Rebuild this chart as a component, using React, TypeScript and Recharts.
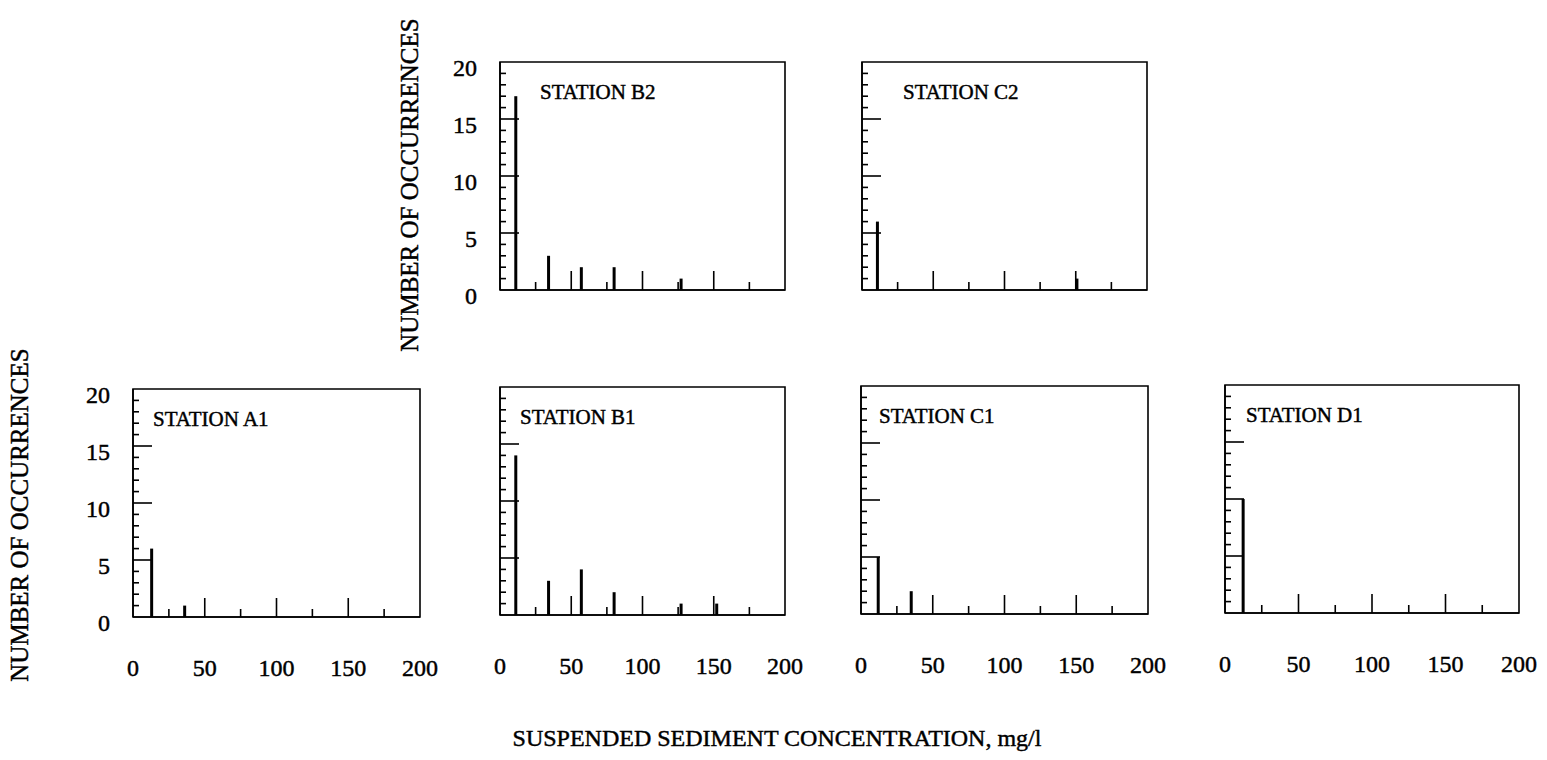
import React from "react";
import { BarChart, Bar, XAxis, YAxis, ReferenceArea } from "recharts";

// ---- data ----
const xTicks = [0, 25, 50, 75, 100, 125, 150, 175, 200];
const yTicks = [0, 1, 2, 3, 4, 5, 6, 7, 8, 9, 10, 11, 12, 13, 14, 15, 16, 17, 18, 19, 20];
const xLabelValues = [0, 50, 100, 150, 200];
const yLabelValues = [0, 5, 10, 15, 20];

const b2Conc = [11, 34, 57, 80, 127];
const b2Count = [17, 3, 2, 2, 1];
const c2Conc = [11, 151];
const c2Count = [6, 1];
const a1Conc = [13, 36];
const a1Count = [6, 1];
const b1Conc = [11, 34, 57, 80, 127, 152];
const b1Count = [14, 3, 4, 2, 1, 1];
const c1Conc = [12, 35];
const c1Count = [5, 2];
const d1Conc = [12];
const d1Count = [10];

const FONT = "'Liberation Serif', 'Times New Roman', serif";

const build = (xs: number[], ys: number[]) => xs.map((x, i) => ({ x, y: ys[i] }));

const panels = [
  { name: "STATION B2", data: build(b2Conc, b2Count), left: 500, top: 62, w: 285, h: 228, showY: true, showX: false, dx: 40 },
  { name: "STATION C2", data: build(c2Conc, c2Count), left: 862, top: 62, w: 285, h: 228, showY: false, showX: false, dx: 41 },
  { name: "STATION A1", data: build(a1Conc, a1Count), left: 133, top: 389, w: 287, h: 228, showY: true, showX: true, dx: 20 },
  { name: "STATION B1", data: build(b1Conc, b1Count), left: 500, top: 387, w: 285, h: 228, showY: false, showX: true, dx: 20 },
  { name: "STATION C1", data: build(c1Conc, c1Count), left: 861, top: 386, w: 287, h: 228, showY: false, showX: true, dx: 18 },
  { name: "STATION D1", data: build(d1Conc, d1Count), left: 1225, top: 385, w: 294, h: 228, showY: false, showX: true, dx: 21 },
];

const ML = 60;
const MT = 10;
const XH = 70;
const MR = 26;

const textStyle = { fontFamily: FONT, fill: "#000", stroke: "#000", strokeWidth: 0.45 };

const XTick = (props: any) => {
  const { x, y, payload, showLabel } = props;
  const v = payload.value;
  const major = v % 50 === 0;
  const len = v === 0 || v === 200 ? 0 : major ? 19 : 8;
  return (
    <g>
      {len > 0 && <line x1={x} x2={x} y1={y} y2={y - len} stroke="#000" strokeWidth={1.6} />}
      {showLabel && xLabelValues.includes(v) && (
        <text x={x} y={y + 59} textAnchor="middle" fontSize={24} style={textStyle}>
          {v}
        </text>
      )}
    </g>
  );
};

const YTick = (props: any) => {
  const { x, y, payload, showLabel } = props;
  const v = payload.value;
  const major = v % 5 === 0;
  const len = v === 0 || v === 20 ? 0 : major ? 19 : 6;
  return (
    <g>
      {len > 0 && <line x1={x} x2={x + len} y1={y} y2={y} stroke="#000" strokeWidth={1.6} />}
      {showLabel && yLabelValues.includes(v) && (
        <text x={x - 23} y={y + 14} textAnchor="end" fontSize={24} style={textStyle}>
          {v}
        </text>
      )}
    </g>
  );
};

const Panel = ({ p }: { p: (typeof panels)[number] }) => (
  <div style={{ position: "absolute", left: p.left - ML, top: p.top - MT }}>
    <BarChart
      width={p.w + ML + MR}
      height={p.h + MT + XH}
      data={p.data}
      margin={{ top: MT, right: MR, bottom: 0, left: 0 }}
    >
      <XAxis
        dataKey="x"
        type="number"
        domain={[0, 200]}
        ticks={xTicks}
        interval={0}
        height={XH}
        tickSize={0}
        tickMargin={0}
        tickLine={false}
        axisLine={{ stroke: "#000", strokeWidth: 1.6 }}
        tick={<XTick showLabel={p.showX} />}
        allowDataOverflow
      />
      <YAxis
        type="number"
        domain={[0, 20]}
        ticks={yTicks}
        interval={0}
        width={ML}
        tickSize={0}
        tickMargin={0}
        tickLine={false}
        axisLine={{ stroke: "#000", strokeWidth: 1.6 }}
        tick={<YTick showLabel={p.showY} />}
        allowDataOverflow
      />
      <ReferenceArea x1={0} x2={200} y1={0} y2={20} fill="none" stroke="#000" strokeWidth={1.6} />
      <Bar dataKey="y" fill="#000" barSize={3} isAnimationActive={false} />
    </BarChart>
  </div>
);

export default function App() {
  return (
    <div style={{ position: "absolute", left: 0, top: 0, width: 1547, height: 760, background: "#fff", overflow: "hidden" }}>
      {panels.map((p) => (
        <Panel key={p.name} p={p} />
      ))}
      <svg width={1547} height={760} style={{ position: "absolute", left: 0, top: 0, pointerEvents: "none" }}>
        {panels.map((p) => (
          <text key={p.name} x={p.left + p.dx} y={p.top + 37} fontSize={21} style={textStyle}>
            {p.name}
          </text>
        ))}
        <text x={0} y={0} transform="translate(418,185) rotate(-90)" textAnchor="middle" fontSize={25} style={textStyle}>
          NUMBER OF OCCURRENCES
        </text>
        <text x={0} y={0} transform="translate(28,515) rotate(-90)" textAnchor="middle" fontSize={25} style={textStyle}>
          NUMBER OF OCCURRENCES
        </text>
        <text x={777} y={746} textAnchor="middle" fontSize={24} style={textStyle}>
          SUSPENDED SEDIMENT CONCENTRATION, mg/l
        </text>
      </svg>
    </div>
  );
}
